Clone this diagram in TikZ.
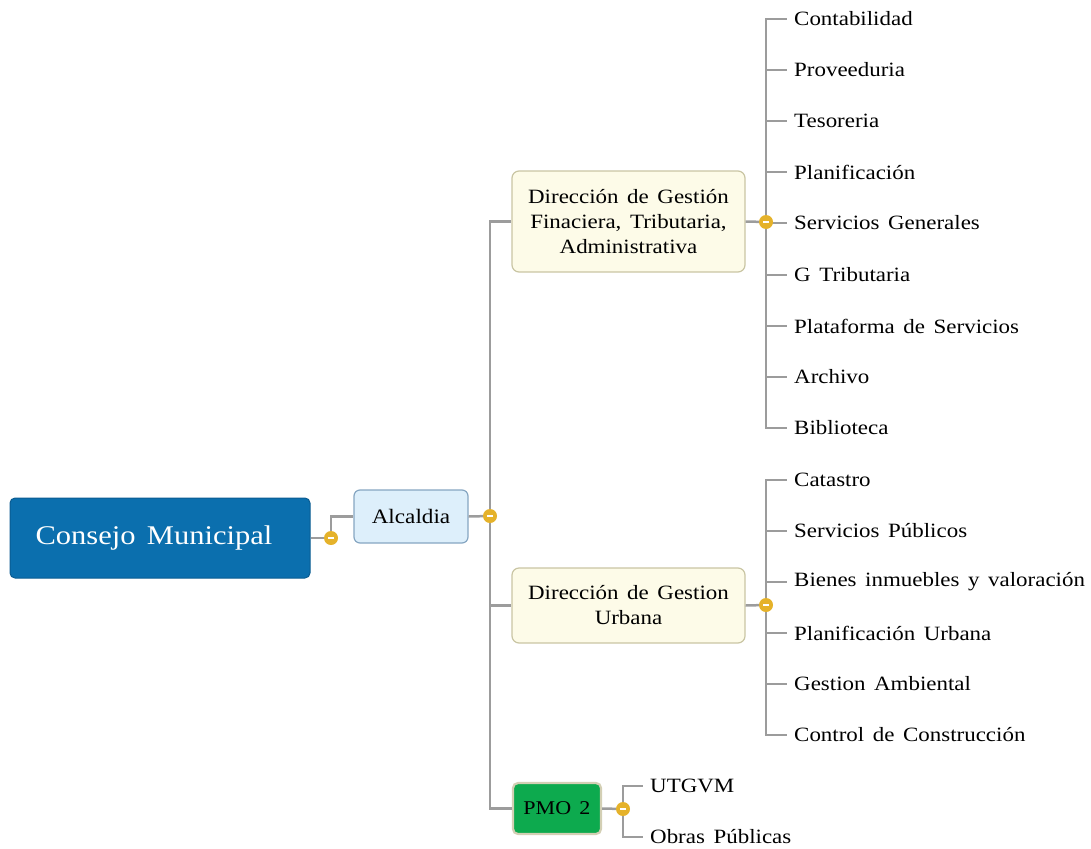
\documentclass[tikz,border=0pt]{standalone}
\usepackage{fontspec}
\setmainfont[FakeStretch=1.13, WordSpace=1.5]{Liberation Serif}
\definecolor{linegray}{HTML}{9C9C9C}
\definecolor{dotyellow}{HTML}{E5B22A}
\definecolor{rootblue}{HTML}{0B6FAE}
\definecolor{rootedge}{HTML}{0A5C92}
\definecolor{alcfill}{HTML}{DDEFFB}
\definecolor{alcedge}{HTML}{86A6C2}
\definecolor{dirfill}{HTML}{FDFBE8}
\definecolor{diredge}{HTML}{C9C5A3}
\definecolor{pmofill}{HTML}{0DAA4E}
\definecolor{pmoedge}{HTML}{D3CFB4}
\tikzset{
  conn/.style={draw=linegray, line width=2.5pt, line join=miter},
  dotnode/.style={circle, fill=dotyellow, minimum size=14pt, inner sep=0pt,
    path picture={\draw[white, line width=1.6pt]
      ([xshift=-3pt]path picture bounding box.center) -- ([xshift=3pt]path picture bounding box.center);}},
  rootbox/.style={rectangle, rounded corners=5pt, fill=rootblue, draw=rootedge, line width=1pt,
    text=white, font=\fontsize{27}{30}\selectfont, minimum width=300pt, minimum height=80pt},
  alcbox/.style={rectangle, rounded corners=6pt, fill=alcfill, draw=alcedge, line width=1.2pt,
    font=\fontsize{20.5}{24}\selectfont, minimum width=114pt, minimum height=53pt},
  dirbox/.style={rectangle, rounded corners=7pt, fill=dirfill, draw=diredge, line width=1.2pt,
    font=\fontsize{20.3}{25}\selectfont, align=center, minimum width=233pt},
  pmobox/.style={rectangle, rounded corners=5pt, fill=pmofill, draw=pmoedge, line width=2.2pt,
    font=\fontsize{19.5}{23}\selectfont, minimum width=88pt, minimum height=51pt},
  leaf/.style={anchor=west, inner xsep=7pt, inner ysep=2pt, font=\fontsize{20.3}{24}\selectfont}
}
\begin{document}
\begin{tikzpicture}[x=1pt, y=-1pt]
\useasboundingbox (0,0) rectangle (1091,848);

% main boxes
\node[rootbox] (consejo) at (160,538) {Consejo Municipal\hspace*{12pt}};
\node[alcbox] (alc) at (411,516.5) {Alcaldia};
\node[dirbox, minimum height=101pt] (dgf) at (628.5,221.5) {Dirección de Gestión\\Finaciera, Tributaria,\\Administrativa};
\node[dirbox, minimum height=75pt] (dgu) at (628.5,605.5) {Dirección de Gestion\\Urbana};
\node[pmobox] (pmo) at (557,808.5) {PMO 2};

% collapse markers
\coordinate (cdot) at (331,538);
\coordinate (adot) at (490,516);
\coordinate (fdot) at (766,222);
\coordinate (udot) at (766,605);
\coordinate (pdot) at (623,809);

% leaves of the finance branch
\foreach \n/\y/\t in {f1/19/Contabilidad, f2/70/Proveeduria, f3/121/Tesoreria,
  f4/172/Planificación, f5/223/Servicios Generales, f6/275/G Tributaria,
  f7/326/Plataforma de Servicios, f8/377/Archivo, f9/428/Biblioteca}
  \node[leaf] (\n) at (787,\y) {\t};

% leaves of the urban branch
\foreach \n/\y/\t in {u1/480/Catastro, u2/531/Servicios Públicos,
  u3/582/Bienes inmuebles y valoración, u4/633/Planificación Urbana,
  u5/684/Gestion Ambiental, u6/735/Control de Construcción}
  \node[leaf] (\n) at (787,\y) {\t};

% leaves of PMO 2
\node[leaf] (p1) at (643,786) {UTGVM};
\node[leaf] (p2) at (643,837) {Obras Públicas};

% connectors
\draw[conn] (consejo.east) -- (cdot);
\draw[conn] (cdot) |- (alc.west);
\draw[conn] (alc.east) -- (adot);
\draw[conn] (adot) |- (dgf.west);
\draw[conn] (adot) |- (dgu.west);
\draw[conn] (adot) |- (pmo.west);
\draw[conn] (dgf.east) -- (fdot);
\foreach \n in {f1,f2,f3,f4,f5,f6,f7,f8,f9} \draw[conn] (fdot) |- (\n.west);
\draw[conn] (dgu.east) -- (udot);
\foreach \n in {u1,u2,u3,u4,u5,u6} \draw[conn] (udot) |- (\n.west);
\draw[conn] (pmo.east) -- (pdot);
\foreach \n in {p1,p2} \draw[conn] (pdot) |- (\n.west);

% markers on top
\foreach \c in {cdot,adot,fdot,udot,pdot} \node[dotnode] at (\c) {};
\end{tikzpicture}
\end{document}
